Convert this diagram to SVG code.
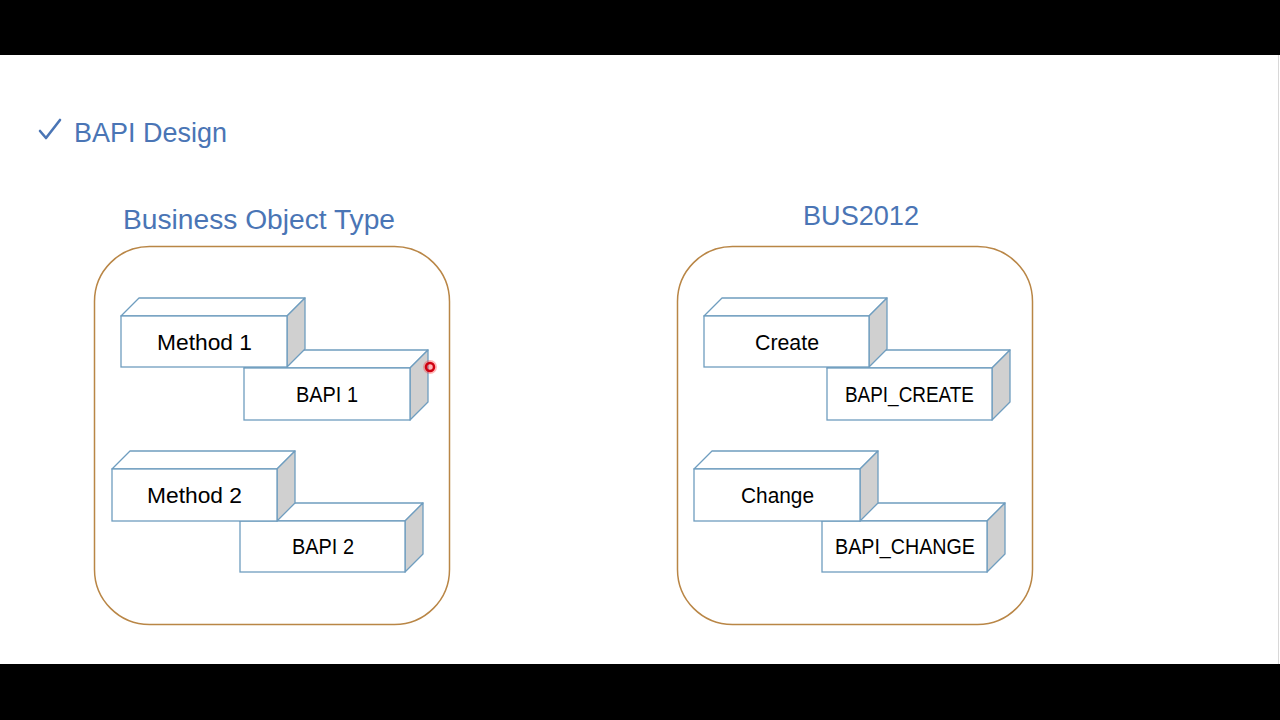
<svg xmlns="http://www.w3.org/2000/svg" width="1280" height="720" viewBox="0 0 1280 720">
<defs>
<style>
.front{fill:#fff;stroke:#6f9dbf;stroke-width:1.3}
.top{fill:#fff;stroke:#6f9dbf;stroke-width:1.3;stroke-linejoin:round}
.side{fill:#d0d0d0;stroke:#6f9dbf;stroke-width:1.3;stroke-linejoin:round}
.lbl{font-family:"Liberation Sans",Arial,sans-serif;font-size:22px;fill:#000;text-anchor:middle}
.title{font-family:"Liberation Sans",Arial,sans-serif;font-size:27px;fill:#4a75b5}
.cont{fill:none;stroke:#b98646;stroke-width:1.5}
</style>
</defs>
<rect x="0" y="0" width="1280" height="720" fill="#000"/>
<rect x="0" y="55" width="1280" height="609" fill="#fff"/>
<line x1="1278.5" y1="55" x2="1278.5" y2="664" stroke="#d8d8d8" stroke-width="1"/>

<g id="heading">
<path d="M40,131 L46,138 L60,120" fill="none" stroke="#4a75b5" stroke-width="2.6" stroke-linecap="round" stroke-linejoin="round"/>
<text x="74" y="142" class="title" textLength="153" lengthAdjust="spacingAndGlyphs">BAPI Design</text>
</g>

<g id="left-container">
<text x="259" y="229" class="title" text-anchor="middle" textLength="272" lengthAdjust="spacingAndGlyphs">Business Object Type</text>
<rect x="94.5" y="246.5" width="355" height="378" rx="55" ry="55" class="cont"/>
</g>
<g id="right-container">
<text x="861" y="225" class="title" text-anchor="middle" textLength="116" lengthAdjust="spacingAndGlyphs">BUS2012</text>
<rect x="677.5" y="246.5" width="355" height="378" rx="55" ry="55" class="cont"/>
</g>

<g id="bapi1">
<polygon class="top" points="244,368 262,350 428,350 410,368"/>
<polygon class="side" points="410,368 428,350 428,402 410,420"/>
<rect class="front" x="244" y="368" width="166" height="52"/>
<text x="327" y="402" class="lbl" textLength="62" lengthAdjust="spacingAndGlyphs">BAPI 1</text>
</g>
<g id="method1">
<polygon class="top" points="121,316 139,298 305,298 287,316"/>
<polygon class="side" points="287,316 305,298 305,349 287,367"/>
<rect class="front" x="121" y="316" width="166" height="51"/>
<text x="204.5" y="350" class="lbl" textLength="95" lengthAdjust="spacingAndGlyphs">Method 1</text>
</g>

<g id="bapi2">
<polygon class="top" points="240,521 258,503 423,503 405,521"/>
<polygon class="side" points="405,521 423,503 423,554 405,572"/>
<rect class="front" x="240" y="521" width="165" height="51"/>
<text x="323" y="554" class="lbl" textLength="62" lengthAdjust="spacingAndGlyphs">BAPI 2</text>
</g>
<g id="method2">
<polygon class="top" points="112,469 130,451 295,451 277,469"/>
<polygon class="side" points="277,469 295,451 295,503 277,521"/>
<rect class="front" x="112" y="469" width="165" height="52"/>
<text x="194.5" y="503" class="lbl" textLength="95" lengthAdjust="spacingAndGlyphs">Method 2</text>
</g>

<g id="bapi-create">
<polygon class="top" points="827,368 845,350 1010,350 992,368"/>
<polygon class="side" points="992,368 1010,350 1010,402 992,420"/>
<rect class="front" x="827" y="368" width="165" height="52"/>
<text x="909.5" y="402" class="lbl" textLength="129" lengthAdjust="spacingAndGlyphs">BAPI_CREATE</text>
</g>
<g id="create">
<polygon class="top" points="704,316 722,298 887,298 869,316"/>
<polygon class="side" points="869,316 887,298 887,349 869,367"/>
<rect class="front" x="704" y="316" width="165" height="51"/>
<text x="787" y="350" class="lbl" textLength="64" lengthAdjust="spacingAndGlyphs">Create</text>
</g>

<g id="bapi-change">
<polygon class="top" points="822,521 840,503 1005,503 987,521"/>
<polygon class="side" points="987,521 1005,503 1005,554 987,572"/>
<rect class="front" x="822" y="521" width="165" height="51"/>
<text x="905" y="554" class="lbl" textLength="140" lengthAdjust="spacingAndGlyphs">BAPI_CHANGE</text>
</g>
<g id="change">
<polygon class="top" points="694,469 712,451 878,451 860,469"/>
<polygon class="side" points="860,469 878,451 878,503 860,521"/>
<rect class="front" x="694" y="469" width="166" height="52"/>
<text x="777.5" y="503" class="lbl" textLength="73" lengthAdjust="spacingAndGlyphs">Change</text>
</g>

<g id="connectors"></g>

<g id="pointer">
<circle cx="430" cy="367" r="7" fill="#ff3030" opacity="0.35"/>
<circle cx="430" cy="367" r="4" fill="none" stroke="#d00010" stroke-width="2.5"/>
</g>
</svg>
